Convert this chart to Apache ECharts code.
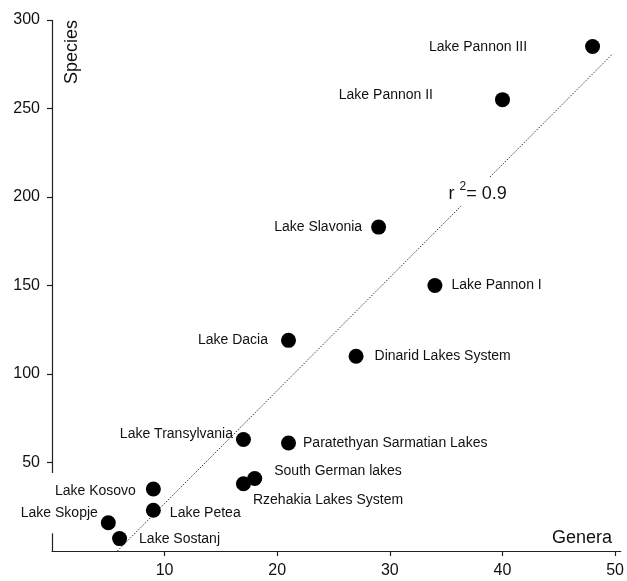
<!DOCTYPE html>
<html>
<head>
<meta charset="utf-8">
<script src="https://cdn.jsdelivr.net/npm/echarts@6/dist/echarts.min.js"></script>
<style>html,body{margin:0;padding:0;background:#fff}#c{width:627px;height:581px}</style>
</head>
<body>
<div id="c"></div>
<script>
// ---- data ----
const lakes = ['Lake Pannon III','Lake Pannon II','Lake Slavonia','Lake Pannon I','Lake Dacia','Dinarid Lakes System','Lake Transylvania','Paratethyan Sarmatian Lakes','South German lakes','Rzehakia Lakes System','Lake Kosovo','Lake Petea','Lake Skopje','Lake Sostanj'];
const genera  = [48, 40, 29, 34, 21, 27, 17, 21, 18, 17, 9, 9, 5, 6];
const species = [285, 255, 183, 150, 119, 110, 63, 61, 41, 38, 35, 23, 16, 7];
const trendX = [5.8, 49.8];
const trendY = [0, 281];
const r2Value = '0.9';
const r2At = [37.8, 203];
const xTicks = [10, 20, 30, 40, 50];
const yTicks = [50, 100, 150, 200, 250, 300];
const yAxisSpans = [[44, 300], [0, 10]];

// ---- label placement (style only) ----
const labelPlace = [
  ['left', 58, 1],
  ['left', 62, -5],
  ['left', 9, 0],
  ['right', 9, 0],
  ['left', 13, 0],
  ['right', 11, 0],
  ['left', 3, -5],
  ['right', 7, 0],
  ['right', 12, -7],
  ['right', 2, 16],
  ['left', 10, 2],
  ['right', 9, 3],
  ['left', 3, -10],
  ['right', 12, 1]
];

const FONT = '"Liberation Sans", Arial, sans-serif';
const chart = echarts.init(document.getElementById('c'), null, {renderer: 'canvas'});

const scatterData = lakes.map((n, i) => ({
  name: n,
  value: [genera[i], species[i]],
  label: {
    position: labelPlace[i][0],
    distance: labelPlace[i][1],
    offset: [0, labelPlace[i][2]]
  }
}));

chart.setOption({
  animation: false,
  backgroundColor: '#fff',
  grid: {left: 52, right: 5, top: 20, bottom: 30},
  xAxis: {
    type: 'value', min: 0, max: 50.5,
    splitLine: {show: false},
    axisLine: {show: true, lineStyle: {color: '#222', width: 1.2}},
    axisTick: {show: true, length: 5, customValues: xTicks, lineStyle: {color: '#222', width: 1.2}},
    axisLabel: {customValues: xTicks, color: '#111', fontSize: 16, fontFamily: FONT, margin: 12}
  },
  yAxis: {
    type: 'value', min: 0, max: 300,
    splitLine: {show: false},
    axisLine: {show: false},
    axisTick: {show: true, length: 5, customValues: yTicks, lineStyle: {color: '#222', width: 1.2}},
    axisLabel: {customValues: yTicks, color: '#111', fontSize: 16, fontFamily: FONT, margin: 12}
  },
  series: [
    {
      type: 'line',
      data: trendX.map((x, i) => [x, trendY[i]]),
      symbol: 'none',
      silent: true,
      z: 1,
      lineStyle: {color: '#333', width: 1, type: [1.5, 1.5]},
      markPoint: {
        symbol: 'rect', symbolSize: 1,
        itemStyle: {color: 'rgba(0,0,0,0)'},
        label: {
          show: true, position: 'inside',
          formatter: '{a|r }{s|2}{a|= ' + r2Value + '}',
          backgroundColor: '#fff', padding: [3, 2],
          rich: {
            a: {color: '#111', fontSize: 18, fontFamily: FONT, lineHeight: 22, verticalAlign: 'bottom'},
            s: {color: '#111', fontSize: 12, fontFamily: FONT, lineHeight: 22, verticalAlign: 'top', padding: [0, 0, 8, 0]}
          }
        },
        data: [{coord: r2At}]
      }
    },
    {
      type: 'line',
      data: [],
      silent: true,
      markLine: {
        symbol: 'none', silent: true,
        label: {show: false},
        lineStyle: {color: '#222', width: 1.2, type: 'solid'},
        data: yAxisSpans.map(s => [{coord: [0, s[0]]}, {coord: [0, s[1]]}])
      }
    },
    {
      type: 'scatter',
      data: scatterData,
      symbolSize: 15,
      z: 3,
      itemStyle: {color: '#000', opacity: 1},
      label: {
        show: true, formatter: '{b}',
        color: '#111', fontSize: 14, fontFamily: FONT
      }
    }
  ],
  graphic: [
    {type: 'text', x: 72, y: 52, rotation: Math.PI / 2,
     style: {text: 'Species', fill: '#111', font: '18px ' + FONT, align: 'center', verticalAlign: 'middle'}},
    {type: 'text', x: 612, y: 538,
     style: {text: 'Genera', fill: '#111', font: '18px ' + FONT, align: 'right', verticalAlign: 'middle'}}
  ]
});
</script>
</body>
</html>
